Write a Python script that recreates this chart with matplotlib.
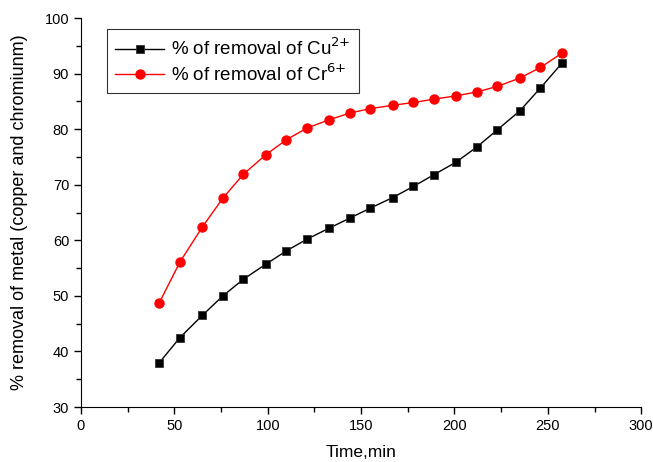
import numpy as np
import matplotlib.pyplot as plt

plt.rcParams['font.family'] = ['Liberation Sans', 'DejaVu Sans']

# contact time (min) and removal percentages
time_min = [42, 53, 65, 76, 87, 99, 110, 121, 133, 144,
            155, 167, 178, 189, 201, 212, 223, 235, 246, 257.6]
cu_removal = [38.0, 42.5, 46.5, 50.0, 53.0, 55.7, 58.1, 60.2, 62.2, 64.0,
              65.8, 67.7, 69.7, 71.8, 74.1, 76.8, 79.9, 83.3, 87.4, 91.9]
cr_removal = [48.8, 56.1, 62.4, 67.6, 71.9, 75.4, 78.1, 80.2, 81.7, 82.9,
              83.7, 84.3, 84.8, 85.4, 86.0, 86.7, 87.7, 89.2, 91.1, 93.7]

fig = plt.figure(figsize=(6.53, 4.62), dpi=100)
ax = fig.add_axes([0.124, 0.119, 0.858, 0.842])

ax.plot(time_min, cu_removal, color='black', lw=1, marker='s', ms=5.5,
        mec='#333333', mew=0.6, label=r'% of removal of Cu$^{2{+}}$')
ax.plot(time_min, cr_removal, color='red', lw=1, marker='o', ms=6.5,
        mec='red', label=r'% of removal of Cr$^{6{+}}$')

ax.set_xlim(0, 300)
ax.set_ylim(30, 100)
ax.set_xticks(np.arange(0, 301, 50))
ax.set_yticks(np.arange(30, 101, 10))
ax.set_xticks(np.arange(25, 300, 50), minor=True)
ax.set_yticks(np.arange(35, 100, 10), minor=True)
ax.tick_params(which='major', direction='out', length=5, width=1, labelsize=10.5)
ax.tick_params(which='minor', direction='out', length=3.5, width=1)

for s in ['top', 'right']:
    ax.spines[s].set_visible(False)

ax.set_xlabel('Time,min', fontsize=12.5, labelpad=9)
ax.set_ylabel('% removal of metal (copper and chromiunm)', fontsize=13, labelpad=12)

leg = ax.legend(loc='upper left', bbox_to_anchor=(0.036, 0.985), fontsize=13.5,
                frameon=True, fancybox=False, edgecolor='black',
                handlelength=2.6, handletextpad=0.35, borderpad=0.45,
                labelspacing=0.2, borderaxespad=0.3)
leg.get_frame().set_linewidth(0.8)

fig.savefig('out.png', dpi=100)
